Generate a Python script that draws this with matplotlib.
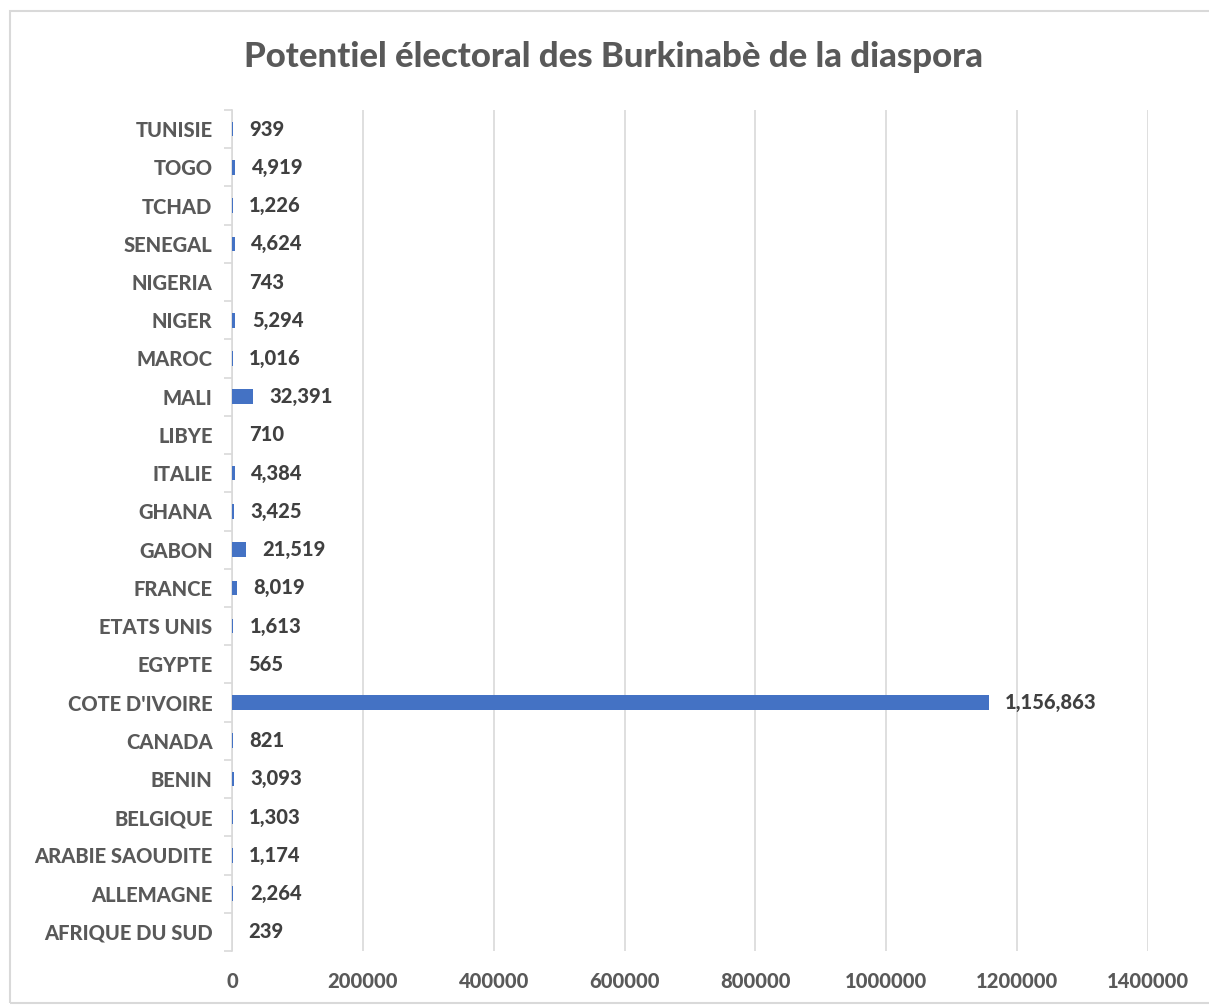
import numpy as np
import matplotlib
matplotlib.use('Agg')
import matplotlib.pyplot as plt
from matplotlib.patches import Rectangle

plt.rcParams['font.family'] = ['Lato', 'DejaVu Sans']

# bottom to top
pays = ['AFRIQUE DU SUD', 'ALLEMAGNE', 'ARABIE SAOUDITE', 'BELGIQUE', 'BENIN',
        'CANADA', "COTE D'IVOIRE", 'EGYPTE', 'ETATS UNIS', 'FRANCE', 'GABON',
        'GHANA', 'ITALIE', 'LIBYE', 'MALI', 'MAROC', 'NIGER', 'NIGERIA',
        'SENEGAL', 'TCHAD', 'TOGO', 'TUNISIE']
electeurs = [239, 2264, 1174, 1303, 3093, 821, 1156863, 565, 1613, 8019, 21519,
             3425, 4384, 710, 32391, 1016, 5294, 743, 4624, 1226, 4919, 939]
x_ticks = [0, 200000, 400000, 600000, 800000, 1000000, 1200000, 1400000]

grey = '#595959'
dark = '#404040'
fs = 14.5

fig = plt.figure(figsize=(12.09, 10.05), dpi=100)
fig.patches.append(Rectangle((10 / 1209, 0.002), 1.2, 0.9875, transform=fig.transFigure,
                             fill=False, edgecolor='#D9D9D9', linewidth=1.5))
ax = fig.add_axes([232 / 1209, 1 - 951 / 1005, (1148 - 232) / 1209, 841 / 1005])

y = np.arange(len(pays))
ax.barh(y, electeurs, height=0.38, color='#4472C4', zorder=3)
for yi, v in zip(y, electeurs):
    ax.text(v + 25000, yi, '{:,}'.format(v), va='center', ha='left',
            fontsize=fs, fontweight='black', color=dark)

ax.set_xlim(0, 1400000)
ax.set_ylim(-0.5, len(pays) - 0.5)
ax.set_yticks(y)
ax.set_yticklabels(pays, fontsize=fs, fontweight='black', color=grey)
ax.set_yticks(np.arange(-0.5, len(pays), 1), minor=True)
ax.tick_params(axis='y', which='major', length=0, pad=14)
ax.tick_params(axis='y', which='minor', length=6, color='#D9D9D9', width=1.2)
ax.set_xticks(x_ticks)
ax.set_xticklabels([str(t) for t in x_ticks], fontsize=fs, fontweight='black', color=grey)
ax.tick_params(axis='x', length=0, pad=15)
ax.grid(axis='x', color='#D9D9D9', linewidth=1.2, zorder=0)
for s in ['top', 'right', 'bottom']:
    ax.spines[s].set_visible(False)
ax.spines['left'].set_color('#D9D9D9')
ax.spines['left'].set_linewidth(1.2)

fig.text(614 / 1209, 1 - 57 / 1005, 'Potentiel électoral des Burkinabè de la diaspora',
         ha='center', va='center', fontsize=25, fontweight='black', color=grey)

fig.savefig('out.png', dpi=100)
